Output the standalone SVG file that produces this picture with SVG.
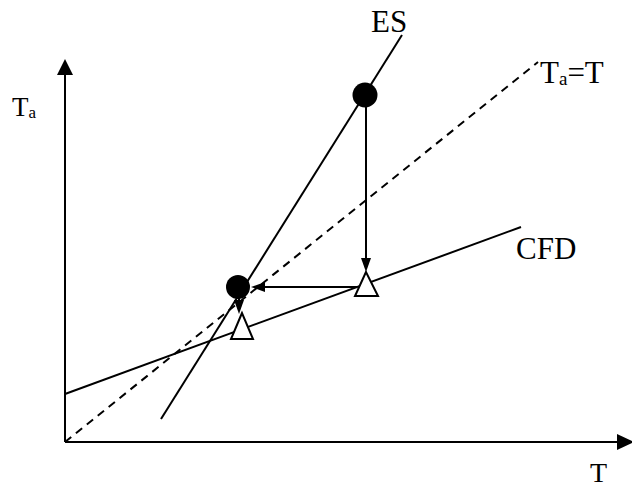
<svg xmlns="http://www.w3.org/2000/svg" width="632" height="487" viewBox="0 0 632 487">
<style>
.ln{stroke:#000;stroke-width:2;fill:none}
.dash{stroke:#000;stroke-width:2;fill:none;stroke-dasharray:8,6}
.ah{fill:#000;stroke:none}
.tri{fill:#fff;stroke:#000;stroke-width:2}
.ball{fill:#000}
.lbl{font-family:"Liberation Serif","Times New Roman",serif;font-size:31px;fill:#000}
.sub{font-size:19px}
</style>
<rect width="632" height="487" fill="#fff"/>
<g id="axes">
<line class="ln" x1="65" y1="442" x2="65" y2="74"/>
<polygon class="ah" points="65,59 57,75 73,75"/>
<line class="ln" x1="65" y1="442" x2="618" y2="442"/>
<polygon class="ah" points="634,442 617,434 617,450"/>
<text class="lbl" x="12" y="116" style="font-size:27px">T<tspan class="sub" dy="2" style="font-size:17px">a</tspan></text>
<text class="lbl" x="590" y="482" style="font-size:28px">T</text>
</g>
<g id="connectors">
<line class="dash" x1="65" y1="442" x2="538" y2="62"/>
<line class="ln" x1="161" y1="419" x2="402" y2="35"/>
<line class="ln" x1="65" y1="394" x2="521" y2="227"/>
<line class="ln" x1="366" y1="95" x2="366" y2="260"/>
<polygon class="ah" points="366,272 361,258 371,258"/>
<line class="ln" x1="357" y1="287" x2="262" y2="287"/>
<polygon class="ah" points="251,287 265,282 265,292"/>
<line class="ln" x1="239" y1="295" x2="239" y2="302"/>
<polygon class="ah" points="239,314 234,300 244,300"/>
</g>
<g id="label-ES"><text class="lbl" x="371" y="32">ES</text></g>
<g id="label-TaT"><text class="lbl" x="540" y="83">T<tspan class="sub" dy="2">a</tspan><tspan dy="-2">=T</tspan></text></g>
<g id="label-CFD"><text class="lbl" x="516" y="259">CFD</text></g>
<g id="ball-upper"><circle class="ball" cx="365" cy="95" r="12.5"/></g>
<g id="ball-lower"><circle class="ball" cx="238" cy="287" r="12"/></g>
<g id="triangle-upper"><polygon class="tri" points="366,272 355,296 378,296"/></g>
<g id="triangle-lower"><polygon class="tri" points="242,313 231,339 253,339"/></g>
</svg>
